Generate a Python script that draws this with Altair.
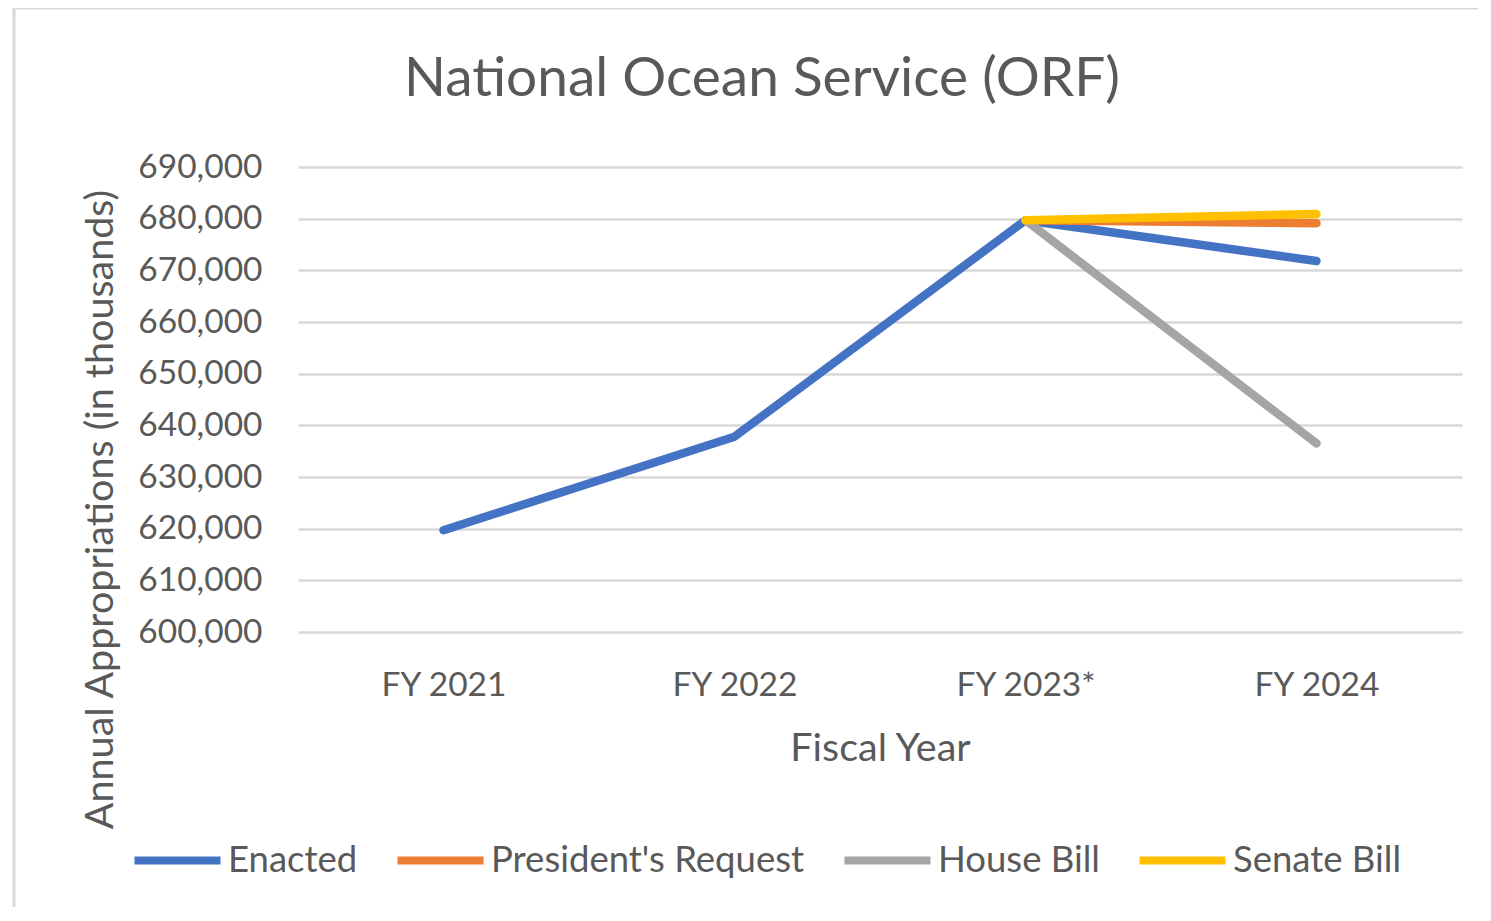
import altair as alt
import pandas as pd

categories = ["FY 2021", "FY 2022", "FY 2023*", "FY 2024"]
series_names = ["Enacted", "President's Request", "House Bill", "Senate Bill"]
series_colors = ["#4472C4", "#ED7D31", "#A5A5A5", "#FFC000"]

enacted = [619700, 637800, 679700, 671800]
presidents_request = [None, None, 679700, 679100]
house_bill = [None, None, 679700, 636500]
senate_bill = [None, None, 679700, 680900]

y_ticks = [600000, 610000, 620000, 630000, 640000, 650000, 660000, 670000, 680000, 690000]

rows = []
for name, vals in zip(series_names, [enacted, presidents_request, house_bill, senate_bill]):
    for i, (cat, v) in enumerate(zip(categories, vals)):
        if v is not None:
            rows.append({"year": cat, "series": name, "value": v, "order": i})
df = pd.DataFrame(rows)

font = "Lato"
txt = "#595959"
W, H = 1164, 465

border = alt.Chart(pd.DataFrame({"a": [0]})).mark_rect(
    fill=None, stroke="#d9d9d9", strokeWidth=3
).encode(
    x=alt.value(-284), x2=alt.value(1400), y=alt.value(-159), y2=alt.value(900)
)

lines = alt.Chart(df).mark_line(strokeWidth=8.5, strokeCap="round", strokeJoin="round").encode(
    x=alt.X("year:N", sort=categories, scale=alt.Scale(domain=categories, type="point", padding=0.5),
            axis=alt.Axis(title="Fiscal Year", labelAngle=0, labelPadding=37, grid=False,
                          titleY=116, titleBaseline="middle")),
    y=alt.Y("value:Q", scale=alt.Scale(domain=[600000, 690000], nice=False, zero=False),
            axis=alt.Axis(title="Annual Appropriations (in thousands)", values=y_ticks, format=",.0f",
                          labelPadding=36, titleX=-198, titleY=342, titleAlign="center",
                          titleBaseline="middle", titleAngle=-90)),
    color=alt.Color("series:N", sort=series_names,
                    scale=alt.Scale(domain=series_names, range=series_colors),
                    legend=alt.Legend(title=None, orient="none", direction="horizontal",
                                      legendX=-168, legendY=646, columns=4,
                                      symbolType="stroke", symbolSize=7400, symbolStrokeWidth=8,
                                      labelOffset=3, columnPadding=23, labelFontSize=36.5,
                                      labelFont=font, labelColor=txt, labelLimit=500, padding=0)),
    order=alt.Order("order:Q"),
)

chart = alt.layer(border, lines).properties(
    width=W, height=H,
    background="white",
    autosize=alt.AutoSizeParams(type="none"),
    padding={"left": 290, "top": 159, "right": 16, "bottom": 275},
    title=alt.TitleParams("National Ocean Service (ORF)", fontSize=55, font=font, color=txt,
                          fontWeight="normal", anchor="middle", frame="group", dx=-118,
                          offset=0, dy=144, baseline="alphabetic"),
).configure_view(stroke=None).configure_axis(
    domain=False, ticks=False, gridColor="#d9d9d9", gridWidth=2.5,
    labelFont=font, labelFontSize=33.5, labelColor=txt,
    titleFont=font, titleFontSize=39.5, titleColor=txt, titleFontWeight="normal",
)

chart.save("out.html", embed_options={"renderer": "svg", "actions": False})
